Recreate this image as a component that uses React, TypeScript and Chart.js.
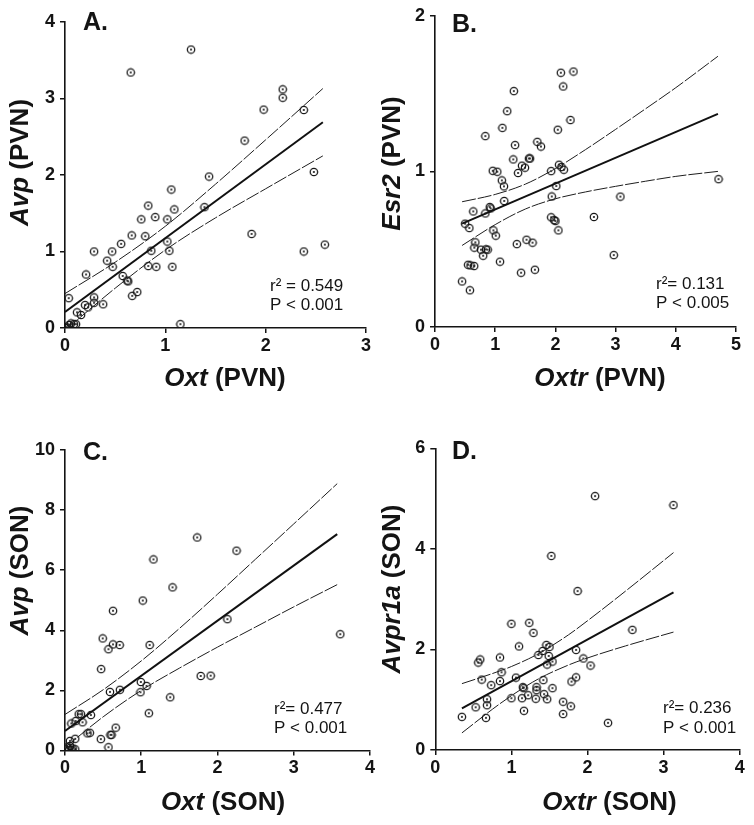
import React, { useEffect, useRef } from 'react';
import { Chart, registerables } from 'chart.js';

Chart.register(...registerables);

const FONT = '"Liberation Sans", Arial, Helvetica, sans-serif';
const INK = '#141414';

// ---------- Panel A: Oxt (PVN) vs Avp (PVN) ----------
const A_X = [0.655, 1.256, 2.17, 2.17, 1.98, 2.38, 1.79, 1.436, 2.48, 1.06, 1.86, 2.38, 2.59, 1.39,
  0.83, 1.09, 0.76, 0.90, 1.02, 0.665, 0.80, 0.56, 0.29, 0.47, 1.02, 0.86, 1.04, 0.42, 0.475, 0.83,
  0.91, 1.07, 0.21, 0.575, 0.62, 0.63, 0.67, 0.72, 0.037, 0.29, 0.29, 0.38, 0.20, 0.23, 0.12, 0.16,
  1.15, 0, 0.017, 0.04, 0.06, 0.09, 0.11];
const A_Y = [3.34, 3.64, 3.12, 3.01, 2.855, 2.85, 2.45, 1.98, 2.04, 1.81, 1.23, 1.00, 1.09, 1.58,
  1.60, 1.55, 1.42, 1.45, 1.42, 1.21, 1.20, 1.10, 1.00, 1.00, 1.13, 1.01, 1.01, 0.88, 0.80, 0.81,
  0.80, 0.80, 0.70, 0.68, 0.62, 0.61, 0.42, 0.47, 0.39, 0.40, 0.33, 0.31, 0.30, 0.27, 0.205, 0.17,
  0.05, 0, 0.01, 0.04, 0.06, 0.05, 0.05];
const A_FIT_X = [0, 2.57];
const A_FIT_Y = [0.21, 2.69];
const A_BAND_X = [0, 0.5, 1, 1.5, 2, 2.57];
const A_BAND_UP = [0.45, 0.86, 1.33, 1.88, 2.46, 3.13];
const A_BAND_LO = [-0.03, 0.52, 1.02, 1.44, 1.82, 2.25];
const A_X_TICKS = [0, 1, 2, 3];
const A_Y_TICKS = [0, 1, 2, 3, 4];

// ---------- Panel B: Oxtr (PVN) vs Esr2 (PVN) ----------
const B_X = [2.09, 2.30, 2.13, 1.31, 1.20, 2.25, 1.12, 2.04, 0.836, 1.33,
  1.70, 1.76, 1.30, 1.56, 1.58, 1.445, 1.495, 1.38, 0.96, 1.035,
  1.93, 2.06, 2.10, 2.14, 1.11, 1.146, 2.015, 1.94, 1.15, 3.08,
  0.636, 0.91, 0.925, 0.836, 0.50, 0.57, 1.93, 1.98, 2.00, 2.64,
  2.05, 0.97, 1.01, 0.67, 1.36, 1.52, 1.62, 0.654, 0.764, 0.847,
  0.875, 0.80, 1.08, 2.97, 0.55, 0.59, 0.65, 1.43, 1.66, 0.45,
  0.58, 4.71];
const B_Y = [1.634, 1.642, 1.546, 1.516, 1.387, 1.33, 1.28, 1.268, 1.227, 1.169,
  1.19, 1.16, 1.077, 1.083, 1.083, 1.037, 1.024, 0.99, 1.004, 0.998,
  1.002, 1.043, 1.028, 1.011, 0.942, 0.904, 0.906, 0.839, 0.81, 0.838,
  0.743, 0.771, 0.762, 0.73, 0.664, 0.636, 0.705, 0.687, 0.681, 0.707,
  0.621, 0.621, 0.587, 0.544, 0.533, 0.561, 0.542, 0.51, 0.497, 0.499,
  0.497, 0.458, 0.42, 0.462, 0.40, 0.396, 0.392, 0.349, 0.368, 0.293,
  0.236, 0.95];
const B_FIT_X = [0.45, 4.7];
const B_FIT_Y = [0.664, 1.37];
const B_BAND_X = [0.45, 1.0, 1.5, 2.0, 2.5, 3.0, 3.5, 4.0, 4.7];
const B_BAND_UP = [0.805, 0.852, 0.918, 1.018, 1.14, 1.27, 1.403, 1.538, 1.74];
const B_BAND_LO = [0.524, 0.658, 0.758, 0.824, 0.868, 0.904, 0.937, 0.968, 1.0];
const B_X_TICKS = [0, 1, 2, 3, 4, 5];
const B_Y_TICKS = [0, 1, 2];

// ---------- Panel C: Oxt (SON) vs Avp (SON) ----------
const C_X = [1.734, 2.25, 1.16, 1.41, 1.02, 0.63, 2.13, 0.495, 0.57, 0.63,
  0.717, 1.11, 0.474, 1.78, 1.91, 0.995, 1.07, 0.99, 0.59, 0.72,
  1.38, 1.10, 0.18, 0.21, 0.34, 0.14, 0.23, 0.083, 0.665, 0.295,
  0.326, 0.596, 0.61, 0.47, 0.065, 0.134, 0.57, 0, 0.03, 0.065,
  0.10, 0.134, 0.056, 0.087, 3.61];
const C_Y = [7.09, 6.65, 6.36, 5.43, 4.99, 4.65, 4.37, 3.73, 3.37, 3.53,
  3.51, 3.51, 2.71, 2.48, 2.49, 2.28, 2.15, 1.94, 1.95, 2.02,
  1.77, 1.24, 1.21, 1.21, 1.18, 0.98, 0.94, 0.90, 0.76, 0.57,
  0.59, 0.52, 0.52, 0.38, 0.32, 0.39, 0.11, 0.04, 0.11, 0.15,
  0.07, 0.04, 0.02, 0.02, 3.87];
const C_FIT_X = [0, 3.57];
const C_FIT_Y = [0.65, 7.2];
const C_BAND_X = [0, 0.5, 1, 1.5, 2, 2.5, 3, 3.57];
const C_BAND_UP = [1.2, 2.02, 2.98, 4.06, 5.2, 6.37, 7.54, 8.88];
const C_BAND_LO = [0.1, 1.12, 2.0, 2.74, 3.44, 4.11, 4.78, 5.52];
const C_X_TICKS = [0, 1, 2, 3, 4];
const C_Y_TICKS = [0, 2, 4, 6, 8, 10];

// ---------- Panel D: Oxtr (SON) vs Avpr1a (SON) ----------
const D_X = [1.87, 1.00, 1.235, 1.29, 2.59, 1.10, 1.46, 1.50, 1.41, 1.355,
  1.85, 1.49, 0.59, 0.565, 0.85, 1.54, 1.47, 1.945, 2.04, 0.87,
  0.61, 1.06, 0.85, 0.735, 1.42, 1.79, 1.85, 1.15, 1.16, 1.33,
  1.33, 1.54, 0.68, 0.68, 1.00, 1.14, 1.22, 1.32, 1.43, 1.47,
  1.68, 1.78, 0.53, 0.666, 1.165, 1.68, 2.27, 0.35, 1.525, 2.10,
  3.13];
const D_Y = [3.16, 2.51, 2.53, 2.33, 2.39, 2.06, 2.09, 2.05, 1.97, 1.89,
  1.99, 1.87, 1.80, 1.74, 1.84, 1.76, 1.70, 1.82, 1.68, 1.545,
  1.40, 1.44, 1.37, 1.29, 1.39, 1.36, 1.445, 1.25, 1.23, 1.25,
  1.19, 1.23, 1.01, 0.89, 1.03, 1.03, 1.09, 1.02, 1.11, 1.01,
  0.96, 0.87, 0.85, 0.64, 0.78, 0.715, 0.54, 0.66, 3.86, 5.05,
  4.87];
const D_FIT_X = [0.35, 3.13];
const D_FIT_Y = [0.83, 3.135];
const D_BAND_X = [0.35, 0.75, 1.0, 1.35, 1.75, 2.0, 2.5, 3.13];
const D_BAND_UP = [1.32, 1.52, 1.66, 1.91, 2.29, 2.57, 3.16, 3.925];
const D_BAND_LO = [0.34, 0.81, 1.08, 1.41, 1.69, 1.83, 2.07, 2.345];
const D_X_TICKS = [0, 1, 2, 3, 4];
const D_Y_TICKS = [0, 2, 4, 6];

type Part = { t: string; i: boolean };

interface PanelSpec {
  box: { x: number; y: number; w: number; h: number };
  area: { l: number; t: number; r: number; b: number };
  xs: number[]; ys: number[];
  fitX: number[]; fitY: number[];
  bandX: number[]; bandUp: number[]; bandLo: number[];
  xTicks: number[]; yTicks: number[];
  label: string; labelPos: [number, number];
  xTitle: Part[]; xTitlePos: [number, number];
  yTitle: Part[]; yTitlePos: [number, number];
  ann: string[]; annX: number; annY: number[];
}

const PANELS: PanelSpec[] = [
  {
    box: { x: 0, y: 0, w: 377, h: 412 },
    area: { l: 65, t: 22, r: 366, b: 328 },
    xs: A_X, ys: A_Y, fitX: A_FIT_X, fitY: A_FIT_Y,
    bandX: A_BAND_X, bandUp: A_BAND_UP, bandLo: A_BAND_LO,
    xTicks: A_X_TICKS, yTicks: A_Y_TICKS,
    label: 'A.', labelPos: [83, 29.5],
    xTitle: [{ t: 'Oxt', i: true }, { t: ' (PVN)', i: false }], xTitlePos: [225, 386],
    yTitle: [{ t: 'Avp', i: true }, { t: ' (PVN)', i: false }], yTitlePos: [28, 162.5],
    ann: ['r\u00B2 = 0.549', 'P < 0.001'], annX: 270, annY: [291, 310],
  },
  {
    box: { x: 377, y: 0, w: 377, h: 412 },
    area: { l: 435, t: 15, r: 736, b: 327 },
    xs: B_X, ys: B_Y, fitX: B_FIT_X, fitY: B_FIT_Y,
    bandX: B_BAND_X, bandUp: B_BAND_UP, bandLo: B_BAND_LO,
    xTicks: B_X_TICKS, yTicks: B_Y_TICKS,
    label: 'B.', labelPos: [452, 31.5],
    xTitle: [{ t: 'Oxtr', i: true }, { t: ' (PVN)', i: false }], xTitlePos: [600, 386],
    yTitle: [{ t: 'Esr2', i: true }, { t: ' (PVN)', i: false }], yTitlePos: [400, 163.5],
    ann: ['r\u00B2= 0.131', 'P < 0.005'], annX: 656, annY: [289, 308],
  },
  {
    box: { x: 0, y: 412, w: 377, h: 413 },
    area: { l: 65, t: 450, r: 371.7, b: 750.5 },
    xs: C_X, ys: C_Y, fitX: C_FIT_X, fitY: C_FIT_Y,
    bandX: C_BAND_X, bandUp: C_BAND_UP, bandLo: C_BAND_LO,
    xTicks: C_X_TICKS, yTicks: C_Y_TICKS,
    label: 'C.', labelPos: [83, 460],
    xTitle: [{ t: 'Oxt', i: true }, { t: ' (SON)', i: false }], xTitlePos: [223, 810],
    yTitle: [{ t: 'Avp', i: true }, { t: ' (SON)', i: false }], yTitlePos: [28, 570.5],
    ann: ['r\u00B2= 0.477', 'P < 0.001'], annX: 274, annY: [714, 732.7],
  },
  {
    box: { x: 377, y: 412, w: 377, h: 413 },
    area: { l: 435.3, t: 448.3, r: 739.7, b: 750 },
    xs: D_X, ys: D_Y, fitX: D_FIT_X, fitY: D_FIT_Y,
    bandX: D_BAND_X, bandUp: D_BAND_UP, bandLo: D_BAND_LO,
    xTicks: D_X_TICKS, yTicks: D_Y_TICKS,
    label: 'D.', labelPos: [452, 459],
    xTitle: [{ t: 'Oxtr', i: true }, { t: ' (SON)', i: false }], xTitlePos: [609.5, 810],
    yTitle: [{ t: 'Avpr1a', i: true }, { t: ' (SON)', i: false }], yTitlePos: [400, 589],
    ann: ['r\u00B2= 0.236', 'P < 0.001'], annX: 663, annY: [713.3, 732.7],
  },
];

function makeMarker(): HTMLCanvasElement {
  const c = document.createElement('canvas');
  c.width = 10;
  c.height = 10;
  const g = c.getContext('2d')!;
  g.strokeStyle = '#161616';
  g.lineWidth = 1.25;
  g.beginPath();
  g.arc(5, 5, 3.7, 0, Math.PI * 2);
  g.stroke();
  g.fillStyle = '#161616';
  g.beginPath();
  g.arc(5, 5, 1.05, 0, Math.PI * 2);
  g.fill();
  return c;
}

function drawParts(ctx: CanvasRenderingContext2D, parts: Part[], cx: number, by: number, size: number) {
  const fonts = parts.map((p) => `${p.i ? 'italic ' : ''}bold ${size}px ${FONT}`);
  let total = 0;
  const widths = parts.map((p, k) => {
    ctx.font = fonts[k];
    const w = ctx.measureText(p.t).width;
    total += w;
    return w;
  });
  let x = cx - total / 2;
  ctx.textAlign = 'left';
  ctx.textBaseline = 'alphabetic';
  parts.forEach((p, k) => {
    ctx.font = fonts[k];
    ctx.fillText(p.t, x, by);
    x += widths[k];
  });
}

function makeTextPlugin(spec: PanelSpec) {
  return {
    id: 'panelText',
    afterDraw(chart: Chart) {
      const ctx = chart.ctx;
      const ox = spec.box.x;
      const oy = spec.box.y;
      ctx.save();
      ctx.fillStyle = INK;
      ctx.textBaseline = 'alphabetic';
      ctx.textAlign = 'left';
      ctx.font = `bold 25px ${FONT}`;
      ctx.fillText(spec.label, spec.labelPos[0] - ox, spec.labelPos[1] - oy);

      drawParts(ctx, spec.xTitle, spec.xTitlePos[0] - ox, spec.xTitlePos[1] - oy, 26);

      ctx.save();
      ctx.translate(spec.yTitlePos[0] - ox, spec.yTitlePos[1] - oy);
      ctx.rotate(-Math.PI / 2);
      drawParts(ctx, spec.yTitle, 0, 0, 26);
      ctx.restore();

      ctx.font = `17px ${FONT}`;
      ctx.textAlign = 'left';
      ctx.fillStyle = INK;
      spec.ann.forEach((line, k) => {
        ctx.fillText(line, spec.annX - ox, spec.annY[k] - oy);
      });
      ctx.restore();
    },
  };
}

function buildChart(canvas: HTMLCanvasElement, spec: PanelSpec, marker: HTMLCanvasElement) {
  const { box, area } = spec;
  const yAxisW = area.l - box.x;
  const padTop = area.t - box.y;
  const padRight = box.x + box.w - area.r;
  const xAxisH = box.y + box.h - area.b;

  const pts = spec.xs.map((x, i) => ({ x, y: spec.ys[i] }));
  const fit = spec.fitX.map((x, i) => ({ x, y: spec.fitY[i] }));
  const up = spec.bandX.map((x, i) => ({ x, y: spec.bandUp[i] }));
  const lo = spec.bandX.map((x, i) => ({ x, y: spec.bandLo[i] }));

  const xMax = spec.xTicks[spec.xTicks.length - 1];
  const yMax = spec.yTicks[spec.yTicks.length - 1];
  const yStep = spec.yTicks[1] - spec.yTicks[0];
  const xStep = spec.xTicks[1] - spec.xTicks[0];

  const tickFont = { family: FONT, size: 18, weight: 'bold' as const };
  const gridOpts = {
    display: true,
    drawOnChartArea: false,
    drawTicks: true,
    tickLength: 5,
    color: INK,
    tickColor: INK,
    lineWidth: 1.5,
    tickWidth: 1.5,
  };
  const borderOpts = { display: true, color: INK, width: 1.6 };

  return new Chart(canvas, {
    type: 'scatter',
    data: {
      datasets: [
        {
          data: up,
          showLine: true,
          borderColor: '#1e1e1e',
          borderWidth: 1,
          borderDash: [14, 2],
          pointRadius: 0,
          cubicInterpolationMode: 'monotone',
        } as any,
        {
          data: lo,
          showLine: true,
          borderColor: '#1e1e1e',
          borderWidth: 1,
          borderDash: [14, 2],
          pointRadius: 0,
          cubicInterpolationMode: 'monotone',
        } as any,
        {
          data: fit,
          showLine: true,
          borderColor: '#111',
          borderWidth: 2,
          pointRadius: 0,
        } as any,
        {
          data: pts,
          showLine: false,
          pointStyle: marker,
          pointRadius: 4,
        } as any,
      ],
    },
    options: {
      animation: false,
      responsive: false,
      maintainAspectRatio: false,
      events: [],
      layout: { padding: { left: 0, top: padTop, right: padRight, bottom: 0 } },
      plugins: {
        legend: { display: false },
        tooltip: { enabled: false },
      },
      scales: {
        x: {
          type: 'linear',
          min: 0,
          max: xMax,
          ticks: {
            stepSize: xStep,
            font: tickFont,
            color: INK,
            padding: 2,
            autoSkip: false,
            maxRotation: 0,
          },
          grid: gridOpts,
          border: borderOpts,
          afterFit: (s: any) => {
            s.height = xAxisH;
          },
        },
        y: {
          type: 'linear',
          min: 0,
          max: yMax,
          ticks: {
            stepSize: yStep,
            font: tickFont,
            color: INK,
            padding: 5,
            autoSkip: false,
          },
          grid: gridOpts,
          border: borderOpts,
          afterFit: (s: any) => {
            s.width = yAxisW;
          },
        },
      },
    } as any,
    plugins: [makeTextPlugin(spec)],
  });
}

function Panel({ spec }: { spec: PanelSpec }) {
  const ref = useRef<HTMLCanvasElement>(null);
  useEffect(() => {
    const marker = makeMarker();
    const chart = buildChart(ref.current!, spec, marker);
    return () => chart.destroy();
  }, [spec]);
  return (
    <canvas
      ref={ref}
      width={spec.box.w}
      height={spec.box.h}
      style={{
        position: 'absolute',
        left: spec.box.x,
        top: spec.box.y,
        width: spec.box.w,
        height: spec.box.h,
      }}
    />
  );
}

export default function App() {
  return (
    <div
      style={{
        position: 'absolute',
        left: 0,
        top: 0,
        width: 754,
        height: 825,
        background: '#ffffff',
        overflow: 'hidden',
      }}
    >
      {PANELS.map((p, i) => (
        <Panel key={i} spec={p} />
      ))}
    </div>
  );
}
